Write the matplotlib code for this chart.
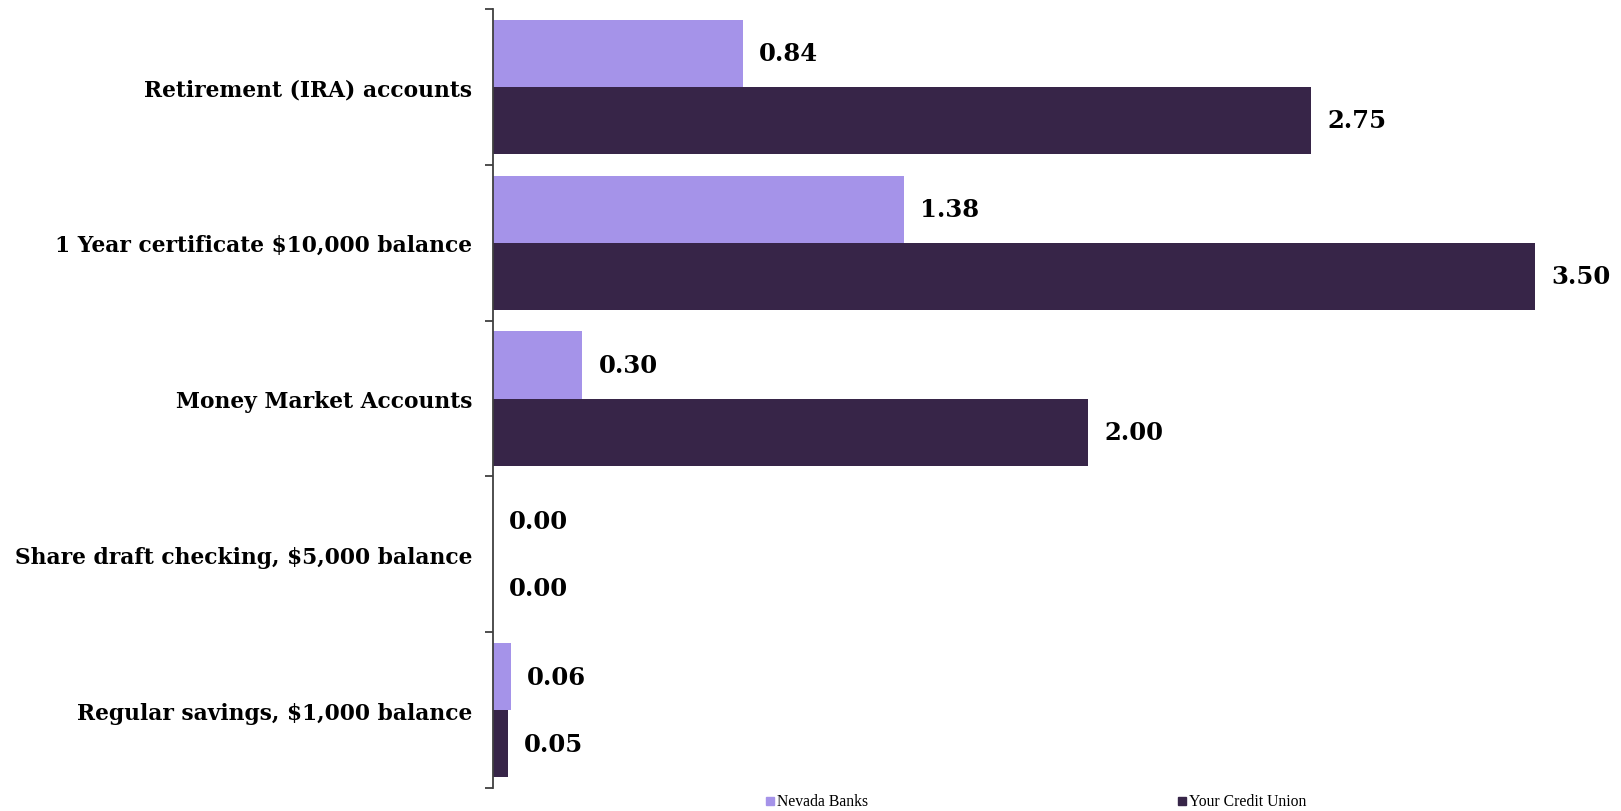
import matplotlib
matplotlib.use("Agg")
import matplotlib.pyplot as plt
import numpy as np
from matplotlib.patches import Rectangle

categories = ["Retirement (IRA) accounts", "1 Year certificate $10,000 balance",
              "Money Market Accounts", "Share draft checking, $5,000 balance",
              "Regular savings, $1,000 balance"]
nevada_banks = [0.84, 1.38, 0.30, 0.00, 0.06]
credit_union = [2.75, 3.50, 2.00, 0.00, 0.05]
series_names = ["Nevada Banks", "Your Credit Union"]

c_light = "#A593E9"
c_dark = "#372548"
serif = ["DejaVu Serif"]

fig = plt.figure(figsize=(16.21, 8.12), dpi=100)
ax = fig.add_axes([0.304, 0.028, 0.696, 0.960])

n = len(categories)
y = np.arange(n)
h = 0.43
ax.barh(y - h / 2, nevada_banks, height=h, color=c_light)
ax.barh(y + h / 2, credit_union, height=h, color=c_dark)

for yi, v in zip(y, nevada_banks):
    ax.text(v + 0.055, yi - h / 2, f"{v:.2f}", va="center", ha="left",
            fontsize=17.5, fontweight="bold", family=serif, color="black")
for yi, v in zip(y, credit_union):
    ax.text(v + 0.055, yi + h / 2, f"{v:.2f}", va="center", ha="left",
            fontsize=17.5, fontweight="bold", family=serif, color="black")

ax.set_xlim(0, 3.79)
ax.set_ylim(n - 0.5, -0.5)
ax.set_yticks(y)
ax.set_yticklabels(categories, fontsize=15.7, fontweight="bold", family=serif)
ax.tick_params(axis="y", which="major", length=0, pad=15)
ax.set_yticks(np.arange(-0.5, n, 1.0), minor=True)
ax.tick_params(axis="y", which="minor", length=6, width=1.3, color="#404040", direction="out")
ax.set_xticks([])
for s in ["top", "right", "bottom"]:
    ax.spines[s].set_visible(False)
ax.spines["left"].set_color("#404040")
ax.spines["left"].set_linewidth(1.3)

fig.text(0.4795, 0.0125, series_names[0], fontsize=11.3, family=["Liberation Serif"], va="center", ha="left")
fig.text(0.7335, 0.0125, series_names[1], fontsize=11.3, family=["Liberation Serif"], va="center", ha="left")
fig.patches.append(Rectangle((0.4727, 0.0075), 0.0048, 0.0095, transform=fig.transFigure, color=c_light))
fig.patches.append(Rectangle((0.7268, 0.0075), 0.0048, 0.0095, transform=fig.transFigure, color=c_dark))

fig.savefig("out.png", dpi=100)
